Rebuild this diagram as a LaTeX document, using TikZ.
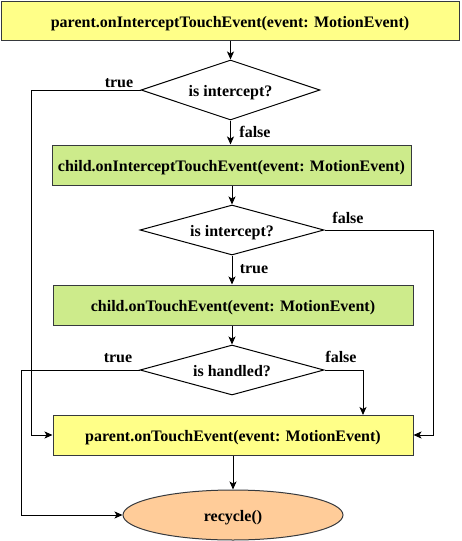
\documentclass[tikz,border=0pt]{standalone}
\usepackage{fontspec}
\setmainfont{Liberation Serif}
\usetikzlibrary{shapes.geometric,arrows.meta}

\definecolor{fyellow}{HTML}{FFFF88}
\definecolor{fgreen}{HTML}{CDEB8B}
\definecolor{forange}{HTML}{FFCC99}
\definecolor{fline}{HTML}{36393D}

\tikzset{
	fltext/.style={font=\fontsize{16}{19}\selectfont\bfseries, text height=16pt, text depth=3pt},
	flbox/.style={fltext, draw=fline, line width=1pt, inner sep=0pt, minimum height=40pt},
	fldecide/.style={fltext, draw, line width=1pt, diamond, aspect=3, inner sep=0pt},
	flarrow/.style={line width=1pt, -{Stealth[length=8pt,width=7pt,inset=2pt]}},
}

\begin{document}
\begin{tikzpicture}[x=1pt,y=-1pt]
\useasboundingbox (0,0) rectangle (461,541);

\pgfmathsetmacro{\flMid}{232}
\pgfmathsetmacro{\flLa}{31}  % true of the first test
\pgfmathsetmacro{\flLb}{21}  % true of the last test
\pgfmathsetmacro{\flRa}{433}
\pgfmathsetmacro{\flRb}{363}

\node[flbox, fill=fyellow, minimum width=458pt, minimum height=39pt] (pIntercept) at (230,20.5) {parent.onInterceptTouchEvent(event: MotionEvent)};
\node[fldecide, minimum width=179pt, minimum height=60pt] (isInterA) at (230.5,90) {is intercept?};
\node[flbox, fill=fgreen, minimum width=359pt] (cIntercept) at (231.5,165) {child.onInterceptTouchEvent(event: MotionEvent)};
\node[fldecide, minimum width=184pt, minimum height=50pt] (isInterB) at (\flMid,230) {is intercept?};
\node[flbox, fill=fgreen, minimum width=360pt] (cTouch) at (233,305) {child.onTouchEvent(event: MotionEvent)};
\node[fldecide, minimum width=184pt, minimum height=50pt] (isHandled) at (\flMid,370) {is handled?};
\node[flbox, fill=fyellow, minimum width=360pt] (pTouch) at (233,435) {parent.onTouchEvent(event: MotionEvent)};
\node[fltext, ellipse, draw=fline, line width=1pt, fill=forange, minimum width=220pt, minimum height=50pt] (recycle) at (233,515) {recycle()};

\coordinate (falseDrop) at (\flRb,415);

% straight down
\draw[flarrow] (pIntercept.south -| isInterA.north) -- (isInterA.north);
\draw[flarrow] (isInterA.south) -- (isInterA.south |- cIntercept.north);
\draw[flarrow] (cIntercept.south -| isInterB.north) -- (isInterB.north);
\draw[flarrow] (isInterB.south) -- (isInterB.south |- cTouch.north);
\draw[flarrow] (cTouch.south -| isHandled.north) -- (isHandled.north);
\draw[flarrow] (pTouch.south) -- (recycle.north);

% side branches
\draw[flarrow] (isInterA.west) -- (\flLa,90) -- (\flLa,435) -- (pTouch.west);
\draw[flarrow] (isInterB.east) -- (\flRa,230) -- (\flRa,435) -- (pTouch.east);
\draw[flarrow] (isHandled.west) -- (\flLb,370) -- (\flLb,515) -- (recycle.west);
\draw[flarrow] (isHandled.east) -- (\flRb,370) -- (falseDrop);

\node[fltext] (lTrueA) at (119,81) {true};
\node[fltext] (lFalseA) at (255,131) {false};
\node[fltext] (lFalseB) at (348,217) {false};
\node[fltext] (lTrueB) at (254,267) {true};
\node[fltext] (lTrueC) at (118,356) {true};
\node[fltext] (lFalseC) at (341,356) {false};
\end{tikzpicture}
\end{document}
